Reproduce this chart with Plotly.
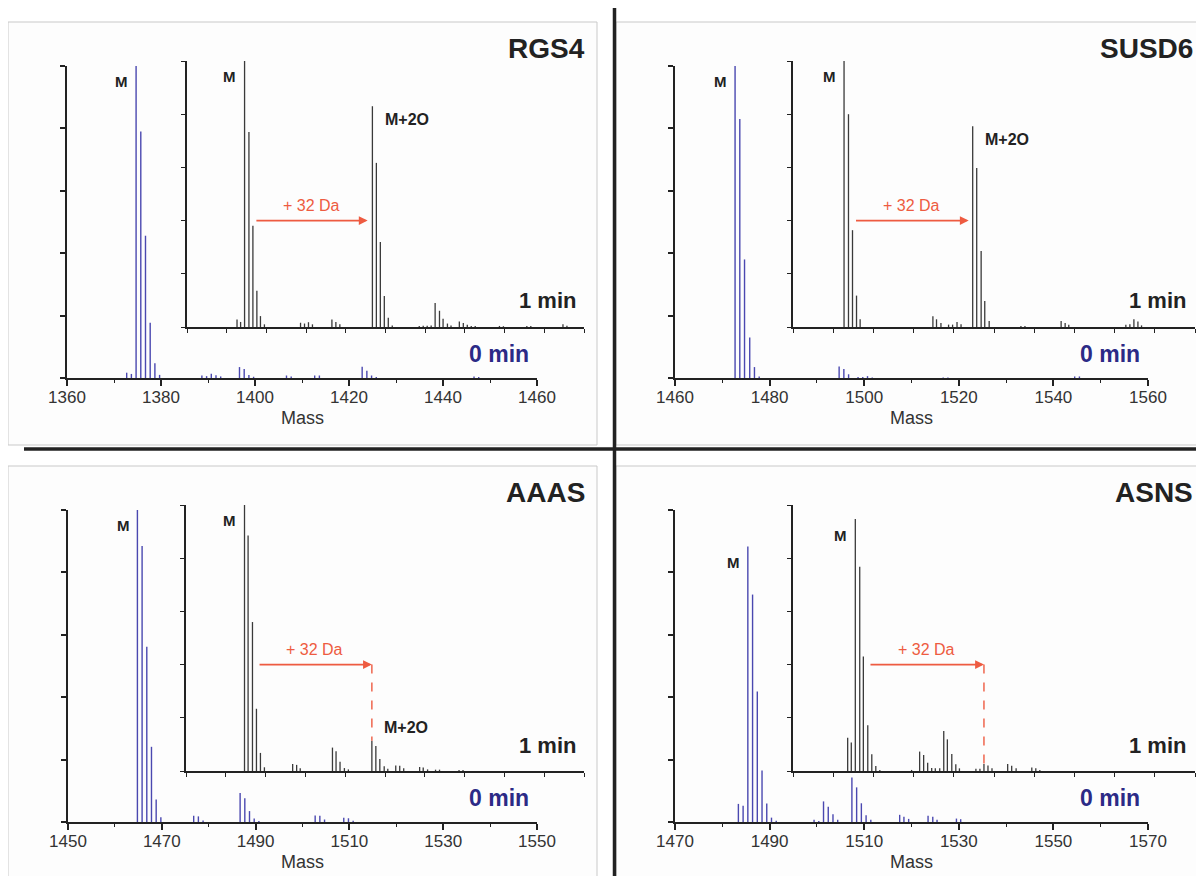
import plotly.graph_objects as go

# ---------------- data ----------------
panel_names = ["RGS4", "SUSD6", "AAAS", "ASNS"]
x_ranges = [(1360, 1460), (1460, 1560), (1450, 1550), (1470, 1570)]
tick_labels_rgs4 = [1360, 1380, 1400, 1420, 1440, 1460]
tick_labels_susd6 = [1460, 1480, 1500, 1520, 1540, 1560]
tick_labels_aaas = [1450, 1470, 1490, 1510, 1530, 1550]
tick_labels_asns = [1470, 1490, 1510, 1530, 1550, 1570]

rgs4_0min_mass = [1372.7, 1373.7, 1374.7, 1375.7, 1376.7, 1377.7, 1378.7, 1379.7, 1388.7, 1389.7, 1390.7, 1391.7,
                  1392.7, 1396.7, 1397.7, 1398.7, 1399.7, 1406.7, 1407.7, 1412.7, 1413.7, 1422.8, 1423.8, 1424.8,
                  1425.8, 1446.6, 1447.6]
rgs4_0min_int = [0.017, 0.013, 1.0, 0.79, 0.456, 0.177, 0.047, 0.01, 0.008, 0.006, 0.014, 0.009,
                 0.005, 0.035, 0.029, 0.01, 0.004, 0.008, 0.005, 0.008, 0.008, 0.036, 0.023, 0.008,
                 0.003, 0.005, 0.003]
rgs4_1min_mass = [1372.6, 1373.5, 1374.5, 1375.6, 1376.6, 1377.6, 1378.5, 1379.5, 1388.6, 1389.6, 1390.6, 1391.6,
                  1396.5, 1397.5, 1398.5, 1406.7, 1407.7, 1408.7, 1409.7, 1410.7, 1411.7, 1418.5, 1419.5, 1420.5,
                  1421.5, 1422.5, 1423.6, 1424.5, 1425.6, 1426.5, 1428.6, 1429.6, 1430.6, 1431.6, 1432.6, 1438.7,
                  1439.7, 1445.6, 1446.6, 1454.7, 1455.7]
rgs4_1min_int = [0.028, 0.019, 1.0, 0.733, 0.381, 0.136, 0.041, 0.01, 0.016, 0.013, 0.018, 0.01,
                 0.028, 0.019, 0.01, 0.83, 0.617, 0.32, 0.117, 0.035, 0.006, 0.004, 0.005, 0.005,
                 0.006, 0.09, 0.061, 0.031, 0.013, 0.006, 0.021, 0.015, 0.008, 0.004, 0.004, 0.004,
                 0.003, 0.004, 0.004, 0.01, 0.005]

susd6_0min_mass = [1472.7, 1473.7, 1474.7, 1475.8, 1476.8, 1477.8, 1494.7, 1495.7, 1496.7, 1498.7, 1499.7, 1500.7,
                   1501.7, 1516.7, 1517.7, 1544.5, 1545.5]
susd6_0min_int = [1.0, 0.83, 0.38, 0.13, 0.035, 0.005, 0.037, 0.029, 0.012, 0.003, 0.003, 0.006,
                  0.002, 0.002, 0.002, 0.005, 0.005]
susd6_1min_mass = [1472.7, 1473.8, 1474.8, 1475.8, 1476.7, 1494.8, 1495.7, 1496.8, 1498.7, 1499.7, 1500.8, 1501.8,
                   1504.7, 1505.7, 1506.8, 1507.7, 1508.8, 1516.7, 1517.7, 1526.7, 1527.7, 1528.6, 1542.8, 1543.8,
                   1544.8, 1545.8, 1546.7]
susd6_1min_int = [1.0, 0.80, 0.364, 0.118, 0.029, 0.04, 0.029, 0.015, 0.009, 0.009, 0.019, 0.01,
                  0.755, 0.598, 0.286, 0.098, 0.023, 0.004, 0.004, 0.023, 0.015, 0.008, 0.008, 0.01,
                  0.029, 0.021, 0.006]

aaas_0min_mass = [1464.8, 1465.8, 1466.8, 1467.8, 1468.8, 1469.8, 1476.8, 1477.8, 1478.8, 1486.7, 1487.7, 1488.7,
                  1489.7, 1490.7, 1502.7, 1503.7, 1504.7, 1508.8, 1509.8, 1510.8]
aaas_0min_int = [1.0, 0.885, 0.562, 0.241, 0.072, 0.015, 0.02, 0.018, 0.005, 0.093, 0.076, 0.035,
                 0.011, 0.003, 0.021, 0.02, 0.008, 0.014, 0.012, 0.004]
aaas_1min_mass = [1464.7, 1465.6, 1466.7, 1467.7, 1468.7, 1469.7, 1476.8, 1477.8, 1478.7, 1486.8, 1487.7, 1488.7,
                  1489.8, 1490.8, 1496.7, 1497.7, 1498.7, 1499.8, 1500.7, 1502.7, 1503.7, 1504.7, 1508.7, 1509.6,
                  1510.7, 1512.7, 1513.7, 1518.6, 1519.6]
aaas_1min_int = [1.0, 0.885, 0.56, 0.234, 0.068, 0.014, 0.026, 0.023, 0.01, 0.088, 0.074, 0.035,
                 0.011, 0.006, 0.114, 0.094, 0.045, 0.018, 0.008, 0.021, 0.02, 0.01, 0.015, 0.013,
                 0.006, 0.005, 0.005, 0.004, 0.004]

asns_0min_mass = [1483.4, 1484.4, 1485.4, 1486.4, 1487.4, 1488.4, 1489.4, 1490.4, 1491.4, 1499.4, 1500.4, 1501.4,
                  1502.4, 1503.4, 1504.4, 1507.4, 1508.4, 1509.4, 1510.4, 1511.4, 1517.5, 1518.4, 1519.4, 1523.5,
                  1524.5, 1525.4, 1529.5, 1530.4]
asns_0min_int = [0.058, 0.052, 0.883, 0.729, 0.418, 0.165, 0.059, 0.014, 0.004, 0.007, 0.003, 0.066,
                 0.049, 0.025, 0.007, 0.143, 0.111, 0.06, 0.022, 0.007, 0.023, 0.017, 0.01, 0.02,
                 0.017, 0.007, 0.011, 0.009]
asns_1min_mass = [1483.6, 1484.5, 1485.5, 1486.6, 1487.5, 1488.6, 1489.6, 1490.6, 1491.6, 1499.5, 1501.5, 1502.5,
                  1503.5, 1504.5, 1505.4, 1506.5, 1507.5, 1508.4, 1509.5, 1510.5, 1511.4, 1515.5, 1516.5, 1517.5,
                  1518.5, 1519.5, 1523.4, 1524.4, 1525.5, 1529.4, 1530.4, 1531.4]
asns_1min_int = [0.125, 0.107, 0.947, 0.768, 0.43, 0.172, 0.063, 0.019, 0.004, 0.004, 0.073, 0.06,
                 0.031, 0.011, 0.01, 0.01, 0.15, 0.119, 0.064, 0.025, 0.01, 0.008, 0.008, 0.026,
                 0.021, 0.01, 0.026, 0.02, 0.01, 0.013, 0.01, 0.004]

shift_da = 32

panels = [
    dict(name="RGS4", ticks=tick_labels_rgs4, m0=rgs4_0min_mass, i0=rgs4_0min_int, m1=rgs4_1min_mass, i1=rgs4_1min_int,
         dashed=False, m2o_label=True),
    dict(name="SUSD6", ticks=tick_labels_susd6, m0=susd6_0min_mass, i0=susd6_0min_int, m1=susd6_1min_mass, i1=susd6_1min_int,
         dashed=False, m2o_label=True),
    dict(name="AAAS", ticks=tick_labels_aaas, m0=aaas_0min_mass, i0=aaas_0min_int, m1=aaas_1min_mass, i1=aaas_1min_int,
         dashed=True, m2o_label=True),
    dict(name="ASNS", ticks=tick_labels_asns, m0=asns_0min_mass, i0=asns_0min_int, m1=asns_1min_mass, i1=asns_1min_int,
         dashed=True, m2o_label=False),
]

# ---------------- layout geometry (pixels of the 1204x884 page) ----------------
PAGE_OFF = 8  # page body margin in which the figure sits
W, H = 1204 - 2 * PAGE_OFF, 884 - 2 * PAGE_OFF
FONT = "Liberation Sans, Arial, sans-serif"
BLUE = "#4a48b0"
DARKBLUE = "#2c2a86"
STICK_BLACK = "#3a3a3a"
RED = "#ee5b41"
AX = "#222222"

def px(x):
    return (x - PAGE_OFF) / W

def py(y):
    return 1 - (y - PAGE_OFF) / H

# (left, right, top, bottom) in pixels for main and inset plots
geo = [
    dict(main=(67, 537, 66, 378), inset=(187, 584, 61, 327), off=(0, 0), right=587, mr=531, ir=578),
    dict(main=(675, 1148, 66, 378), inset=(793, 1195, 61, 327), off=(608, 0), right=1195, mr=1142, ir=1188),
    dict(main=(68, 537, 510, 822), inset=(186, 584, 505, 771), off=(0, 444), right=587, mr=531, ir=578),
    dict(main=(675, 1148, 510, 822), inset=(793, 1195, 505, 771), off=(608, 444), right=1195, mr=1142, ir=1188),
]

def sticks(mass, inten):
    xs, ys = [], []
    for m, h in zip(mass, inten):
        xs += [m, m, None]
        ys += [0, h, None]
    return xs, ys

fig = go.Figure()
layout = dict(width=W, height=H, margin=dict(l=0, r=0, t=0, b=0, autoexpand=False), paper_bgcolor="white",
              plot_bgcolor="rgba(0,0,0,0)", showlegend=False, font=dict(family=FONT, color="#333"))
annotations = []
shapes = []

for i, p in enumerate(panels):
    g = geo[i]
    lo, hi = x_ranges[i]
    mi = 2 * i + 1
    ii = 2 * i + 2
    xm, ym = f"x{mi}", f"y{mi}"
    xi, yi = f"x{ii}", f"y{ii}"

    # traces
    sx, sy = sticks(p["m0"], p["i0"])
    fig.add_trace(go.Scatter(x=sx, y=sy, mode="lines", line=dict(color=BLUE, width=1.4),
                             xaxis=xm, yaxis=ym, hoverinfo="skip"))
    sx, sy = sticks(p["m1"], p["i1"])
    fig.add_trace(go.Scatter(x=sx, y=sy, mode="lines", line=dict(color=STICK_BLACK, width=1.3),
                             xaxis=xi, yaxis=yi, hoverinfo="skip"))

    L, R, T, B = g["main"]
    minor_vals = [v for v in range(lo, hi + 1, 10) if v not in p["ticks"]]
    layout[f"xaxis{mi}"] = dict(domain=[px(L), px(R)], range=[lo, hi], anchor=ym, automargin=False,
                                tickmode="array", tickvals=p["ticks"], ticktext=[str(t) for t in p["ticks"]],
                                ticks="outside", ticklen=6, tickwidth=1.5, tickcolor=AX, ticklabelstandoff=-3,
                                showline=True, linecolor=AX, linewidth=1.8, showgrid=False, zeroline=False,
                                tickfont=dict(size=17, color="#333", family=FONT),
                                minor=dict(tickmode="array", tickvals=minor_vals, ticks="outside",
                                           ticklen=3, tickwidth=1.3, tickcolor=AX, showgrid=False))
    layout[f"yaxis{mi}"] = dict(domain=[py(B), py(T)], range=[0, 1], anchor=xm, automargin=False,
                                tickmode="array", tickvals=[0, 0.2, 0.4, 0.6, 0.8, 1.0],
                                ticks="outside", ticklen=5, tickwidth=1.5, tickcolor=AX, showticklabels=False,
                                showline=True, linecolor=AX, linewidth=1.8, showgrid=False, zeroline=False)
    L2, R2, T2, B2 = g["inset"]
    layout[f"xaxis{ii}"] = dict(domain=[px(L2), px(R2)], range=[lo, hi], anchor=yi, automargin=False,
                                tickmode="linear", tick0=lo, dtick=10,
                                ticks="outside", ticklen=4, tickwidth=1.3, tickcolor=AX, showticklabels=False,
                                showline=True, linecolor=AX, linewidth=1.8, showgrid=False, zeroline=False)
    layout[f"yaxis{ii}"] = dict(domain=[py(B2), py(T2)], range=[0, 1], anchor=xi, automargin=False,
                                tickmode="array", tickvals=[0, 0.2, 0.4, 0.6, 0.8, 1.0],
                                ticks="outside", ticklen=4, tickwidth=1.3, tickcolor=AX, showticklabels=False,
                                showline=True, linecolor=AX, linewidth=1.8, showgrid=False, zeroline=False)

    ox, oy = g["off"]
    # panel frame
    shapes.append(dict(type="rect", xref="paper", yref="paper",
                       x0=px(8 + ox), x1=px(597 + ox + (14 if ox else 0)), y0=py(445 + oy + (40 if oy else 0)), y1=py(22 + oy),
                       line=dict(color="#c9c9c9", width=1), fillcolor="#fdfdfd", layer="below"))

    # titles & labels
    annotations.append(dict(text=f"<b>{p['name']}</b>", xref="paper", yref="paper", x=px(g["right"]), y=py(48 + oy),
                            xanchor="right", yanchor="middle", showarrow=False,
                            font=dict(size=28, color="#222", family=FONT)))
    annotations.append(dict(text="<b>1 min</b>", xref="paper", yref="paper", x=px(g["ir"]), y=py(301 + oy),
                            xanchor="right", yanchor="middle", showarrow=False,
                            font=dict(size=22, color="#222", family=FONT)))
    annotations.append(dict(text="<b>0 min</b>", xref="paper", yref="paper", x=px(g["mr"]), y=py(354 + oy),
                            xanchor="right", yanchor="middle", showarrow=False,
                            font=dict(size=23, color=DARKBLUE, family=FONT)))
    annotations.append(dict(text="Mass", xref="paper", yref="paper", x=px((L + R) / 2), y=py(418 + oy),
                            xanchor="center", yanchor="middle", showarrow=False,
                            font=dict(size=18, color="#333", family=FONT)))

    # M labels
    k0 = p["i0"].index(max(p["i0"]))
    M0, H0 = p["m0"][k0], p["i0"][k0]
    annotations.append(dict(text="<b>M</b>", xref=xm, yref=ym, x=M0 - 3.0, y=H0 - 0.05,
                            xanchor="center", yanchor="middle", showarrow=False,
                            font=dict(size=15, color="#222", family=FONT)))
    k1 = p["i1"].index(max(p["i1"]))
    M1, H1 = p["m1"][k1], p["i1"][k1]
    annotations.append(dict(text="<b>M</b>", xref=xi, yref=yi, x=M1 - 3.7, y=H1 - 0.06,
                            xanchor="center", yanchor="middle", showarrow=False,
                            font=dict(size=15, color="#222", family=FONT)))

    # M+2O peak
    target = M1 + shift_da
    kk = min(range(len(p["m1"])), key=lambda j: abs(p["m1"][j] - target))
    Mo, Ho = p["m1"][kk], p["i1"][kk]
    if p["m2o_label"]:
        annotations.append(dict(text="<b>M+2O</b>", xref=xi, yref=yi, x=Mo + 2.6,
                                y=(Ho - 0.05) if not p["dashed"] else Ho + 0.05,
                                xanchor="left", yanchor="middle", showarrow=False,
                                font=dict(size=16, color="#222", family=FONT)))

    # arrow +32 Da
    arrow_y = 0.4
    start = M1 + (2.6 if not p["dashed"] else 3.4)
    end = M1 + shift_da - (1.0 if not p["dashed"] else 0.0)
    annotations.append(dict(text="", xref=xi, yref=yi, x=end, y=arrow_y, axref=xi, ayref=yi,
                            ax=start, ay=arrow_y, showarrow=True, arrowhead=2, arrowsize=1.1,
                            arrowwidth=1.6, arrowcolor=RED))
    annotations.append(dict(text=f"+ {shift_da} Da", xref=xi, yref=yi, x=(start + end) / 2, y=arrow_y + 0.055,
                            xanchor="center", yanchor="middle", showarrow=False,
                            font=dict(size=16, color=RED, family=FONT)))
    if p["dashed"]:
        fig.add_trace(go.Scatter(x=[M1 + shift_da, M1 + shift_da], y=[arrow_y, Ho], mode="lines",
                                 line=dict(color=RED, width=1.4, dash="dash"),
                                 xaxis=xi, yaxis=yi, hoverinfo="skip"))

# black dividers
shapes.append(dict(type="line", xref="paper", yref="paper", x0=px(614.5), x1=px(614.5), y0=py(8), y1=py(900),
                   line=dict(color="#222", width=3.5), layer="above"))
shapes.append(dict(type="line", xref="paper", yref="paper", x0=px(24), x1=px(1220), y0=py(449), y1=py(449),
                   line=dict(color="#222", width=3.5), layer="above"))

layout["annotations"] = annotations
layout["shapes"] = shapes
fig.update_layout(**layout)
fig.write_html("out.html")
